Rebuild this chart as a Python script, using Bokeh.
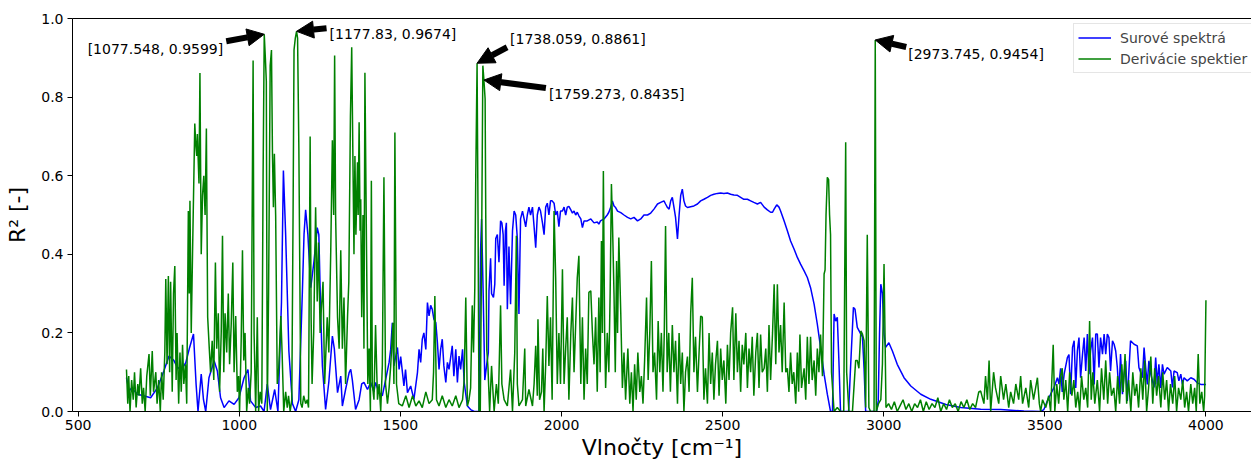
from bokeh.plotting import figure
from bokeh.models import (Range1d, FixedTicker, PrintfTickFormatter, LinearAxis,
                          Label, Arrow, NormalHead, Legend, LegendItem)
from bokeh.embed import file_html
from bokeh.resources import INLINE

# R^2 of the raw spectra along the wavenumber axis
raw_wn = [
    650, 658, 666, 684, 703, 725, 746, 766, 782, 797,
    808, 821, 834, 846, 858, 866, 872, 882, 889, 896,
    906, 922, 932, 942, 953, 968, 984, 999, 1015, 1027,
    1035, 1051, 1066, 1077, 1087, 1097, 1110, 1120, 1131, 1137,
    1144, 1154, 1165, 1175, 1185, 1196, 1201, 1206, 1213, 1222,
    1232, 1242, 1247, 1253, 1258, 1268, 1278, 1289, 1295, 1305,
    1315, 1320, 1330, 1341, 1346, 1351, 1361, 1372, 1380, 1387,
    1398, 1408, 1418, 1423, 1434, 1444, 1454, 1465, 1470, 1475,
    1480, 1491, 1496, 1501, 1511, 1516, 1522, 1532, 1542, 1553,
    1558, 1563, 1568, 1573, 1579, 1584, 1589, 1594, 1599, 1604,
    1610, 1615, 1620, 1625, 1630, 1635, 1641, 1646, 1651, 1661,
    1666, 1672, 1677, 1682, 1687, 1693, 1698, 1708, 1718, 1729,
    1744, 1749, 1752, 1757, 1762, 1768, 1773, 1775, 1780, 1783,
    1789, 1793, 1796, 1801, 1806, 1811, 1815, 1819, 1822, 1826,
    1829, 1832, 1837, 1842, 1848, 1853, 1858, 1863, 1868, 1873,
    1879, 1884, 1889, 1894, 1899, 1904, 1910, 1915, 1920, 1925,
    1930, 1935, 1941, 1946, 1951, 1956, 1961, 1966, 1971, 1977,
    1982, 1987, 1992, 1997, 2003, 2008, 2013, 2018, 2023, 2029,
    2034, 2039, 2044, 2049, 2054, 2060, 2065, 2070, 2080, 2091,
    2101, 2111, 2116, 2121, 2132, 2142, 2147, 2153, 2158, 2163,
    2168, 2174, 2184, 2194, 2205, 2215, 2225, 2236, 2246, 2256,
    2267, 2277, 2287, 2298, 2308, 2318, 2323, 2329, 2334, 2339,
    2344, 2349, 2354, 2360, 2365, 2370, 2375, 2380, 2385, 2391,
    2401, 2411, 2422, 2432, 2442, 2453, 2463, 2473, 2484, 2494,
    2504, 2515, 2525, 2535, 2546, 2556, 2566, 2577, 2587, 2597,
    2608, 2618, 2629, 2639, 2649, 2655, 2660, 2668, 2675, 2680,
    2691, 2701, 2711, 2722, 2732, 2742, 2753, 2763, 2773, 2784,
    2794, 2804, 2815, 2825, 2835, 2841, 2846, 2851, 2856, 2861,
    2866, 2891, 2897, 2906, 2911, 2918, 2929, 2934, 2939, 2944,
    2978, 2983, 2987, 2991, 2996, 3001, 3006, 3016, 3027, 3042,
    3063, 3084, 3115, 3146, 3193, 3239, 3301, 3363, 3435, 3487,
    3497, 3508, 3518, 3528, 3539, 3544, 3549, 3554, 3560, 3570,
    3575, 3580, 3586, 3591, 3596, 3601, 3606, 3611, 3617, 3622,
    3627, 3632, 3637, 3642, 3648, 3653, 3658, 3663, 3668, 3673,
    3679, 3684, 3689, 3694, 3699, 3704, 3710, 3715, 3720, 3725,
    3730, 3735, 3741, 3746, 3751, 3756, 3766, 3777, 3787, 3792,
    3803, 3808, 3813, 3818, 3823, 3829, 3839, 3844, 3849, 3854,
    3860, 3865, 3870, 3880, 3891, 3896, 3901, 3911, 3916, 3922,
    3927, 3932, 3942, 3953, 3963, 3973, 3984, 4000,
]
raw_r2 = [
    .086, .052, .06, .044, .04, .035, .06, .103, .141, .13,
    .112, .107, .124, .163, .197, .07, 0, .095, .03, 0,
    .086, .129, .103, .035, .01, .027, .018, .035, .086, .107,
    .027, .01, .014, 0, .07, .005, .056, 0, .277, .613,
    .45, .154, .02, 0, .03, .307, .45, .513, .45, .315,
    .383, .468, .45, .243, .116, .005, .075, .192, .16, .048,
    .09, .014, .056, .099, .107, .08, .005, .03, .07, .074,
    .056, .074, .05, .074, .048, .04, .08, .125, .158, .226,
    .116, .163, .107, .14, .065, .107, .048, .065, .031, .099,
    .158, .125, .184, .2, .158, .277, .243, .27, .26, .235,
    .226, .175, .107, .158, .184, .116, .074, .125, .107, .167,
    .09, .158, .074, .141, .107, .158, .074, .014, .005, 0,
    0, .41, .49, .3, .08, .12, .15, .307, .39, .3,
    .29, .324, .44, .45, .38, .485, .48, .45, .32, .46,
    .48, .26, .42, .273, .46, .51, .5, .44, .248, .49,
    .51, .49, .47, .5, .52, .5, .52, .47, .417, .5,
    .52, .51, .48, .45, .52, .53, .5, .536, .536, .53,
    .5, .51, .47, .51, .51, .52, .5, .52, .522, .513,
    .505, .51, .5, .507, .498, .49, .468, .485, .485, .49,
    .48, .482, .477, .485, .49, .5, .507, .52, .536, .523,
    .519, .51, .506, .5, .494, .49, .494, .485, .49, .5,
    .5, .505, .515, .528, .532, .536, .528, .519, .515, .536,
    .545, .52, .494, .439, .5, .55, .566, .536, .523, .519,
    .521, .523, .528, .536, .54, .545, .55, .553, .555, .556,
    .555, .556, .553, .551, .55, .545, .54, .54, .536, .532,
    .528, .532, .52, .513, .507, .507, .515, .526, .52, .51,
    .485, .46, .434, .413, .392, .375, .358, .341, .315, .273,
    .222, .163, .095, .044, 0, 0, .248, .23, .24, .128,
    0, 0, .11, .265, .26, .214, .197, .19, .11, 0,
    0, .027, .197, .324, .3, .197, .163, .175, .154, .12,
    .086, .065, .044, .031, .018, .01, .006, .005, .001, 0,
    .005, .027, .044, .06, .086, .07, .11, .05, .095, .137,
    .145, .044, .163, .18, .06, .154, .188, .086, .146, .188,
    .103, .197, .095, .154, .188, .069, .197, .197, .112, .188,
    .146, .197, .146, .197, .188, .103, .18, .171, .154, .112,
    .044, .146, .044, .095, .129, .027, .18, .171, .167, .112,
    .086, .163, .112, .069, .129, .095, .061, .137, .069, .12,
    .06, .12, .095, .112, .103, .061, .103, .099, .078, .095,
    .069, .086, .078, .086, .082, .073, .069, .069,
]

# R^2 of the spectral derivatives (annotated maxima are kept separately below)
deriv_wn = [
    650, 654, 657, 661, 666, 671, 675, 680, 685, 689,
    694, 699, 703, 708, 713, 720, 724, 730, 734, 741,
    745, 750, 755, 759, 764, 769, 772, 776, 780, 784,
    787, 792, 796, 800, 804, 807, 812, 816, 820, 824,
    828, 833, 837, 842, 845, 847, 851, 855, 862, 865,
    868, 870, 875, 878, 882, 886, 890, 894, 898, 902,
    907, 911, 916, 921, 926, 930, 935, 939, 944, 948,
    952, 956, 961, 966, 970, 975, 980, 984, 989, 994,
    998, 1001, 1006, 1010, 1014, 1018, 1023, 1028, 1032, 1037,
    1043, 1046, 1051, 1056, 1060, 1065, 1070, 1074, 1081, 1084,
    1087, 1091, 1096, 1100, 1103, 1106, 1109, 1113, 1118, 1122,
    1129, 1133, 1138, 1144, 1149, 1153, 1158, 1163, 1167, 1170,
    1174, 1181, 1185, 1191, 1195, 1200, 1206, 1211, 1215, 1220,
    1223, 1226, 1231, 1237, 1242, 1246, 1251, 1254, 1260, 1265,
    1273, 1278, 1284, 1289, 1293, 1296, 1299, 1305, 1310, 1315,
    1320, 1325, 1330, 1336, 1340, 1345, 1349, 1353, 1356, 1359,
    1362, 1367, 1369, 1372, 1375, 1377, 1380, 1384, 1387, 1390,
    1395, 1399, 1403, 1407, 1410, 1413, 1418, 1423, 1429, 1434,
    1439, 1444, 1449, 1454, 1460, 1465, 1470, 1477, 1480, 1483,
    1488, 1495, 1506, 1517, 1527, 1538, 1548, 1558, 1568, 1579,
    1589, 1599, 1603, 1607, 1612, 1620, 1630, 1641, 1651, 1661,
    1672, 1682, 1693, 1698, 1703, 1708, 1713, 1718, 1723, 1727,
    1731, 1734, 1741, 1744, 1748, 1752, 1756, 1763, 1765, 1768,
    1772, 1777, 1783, 1786, 1791, 1798, 1804, 1811, 1815, 1822,
    1832, 1842, 1848, 1855, 1860, 1863, 1868, 1879, 1886, 1889,
    1899, 1910, 1915, 1920, 1925, 1927, 1932, 1938, 1942, 1946,
    1951, 1956, 1961, 1966, 1971, 1977, 1982, 1987, 1992, 1997,
    2003, 2008, 2013, 2018, 2023, 2029, 2034, 2039, 2044, 2049,
    2054, 2060, 2065, 2070, 2075, 2080, 2085, 2091, 2096, 2101,
    2106, 2111, 2116, 2120, 2124, 2127, 2130, 2134, 2137, 2142,
    2147, 2151, 2155, 2158, 2163, 2167, 2171, 2174, 2178, 2184,
    2189, 2194, 2199, 2206, 2212, 2217, 2222, 2227, 2232, 2237,
    2243, 2248, 2253, 2258, 2264, 2269, 2274, 2279, 2284, 2289,
    2295, 2300, 2305, 2310, 2315, 2319, 2323, 2328, 2333, 2338,
    2344, 2349, 2354, 2360, 2365, 2370, 2375, 2380, 2385, 2391,
    2396, 2401, 2406, 2411, 2416, 2422, 2427, 2432, 2437, 2442,
    2447, 2453, 2458, 2463, 2468, 2473, 2478, 2484, 2489, 2494,
    2499, 2504, 2510, 2515, 2520, 2525, 2531, 2535, 2541, 2546,
    2551, 2556, 2561, 2566, 2572, 2577, 2582, 2587, 2592, 2597,
    2603, 2608, 2613, 2618, 2623, 2629, 2634, 2639, 2644, 2649,
    2655, 2660, 2665, 2670, 2675, 2680, 2685, 2691, 2696, 2701,
    2706, 2711, 2716, 2721, 2727, 2732, 2736, 2740, 2745, 2753,
    2758, 2763, 2768, 2773, 2778, 2784, 2789, 2794, 2799, 2804,
    2810, 2815, 2818, 2821, 2825, 2829, 2832, 2835, 2838, 2846,
    2856, 2866, 2876, 2882, 2885, 2892, 2903, 2913, 2918, 2923,
    2929, 2934, 2939, 2944, 2949, 2954, 2959, 2970, 2977, 2984,
    2991, 2996, 3001, 3004, 3007, 3015, 3024, 3033, 3042, 3051,
    3060, 3069, 3078, 3087, 3096, 3105, 3114, 3123, 3132, 3141,
    3150, 3159, 3168, 3177, 3186, 3195, 3204, 3213, 3222, 3231,
    3240, 3249, 3258, 3267, 3276, 3285, 3295, 3301, 3311, 3316,
    3322, 3327, 3332, 3341, 3347, 3357, 3363, 3372, 3379, 3388,
    3394, 3403, 3410, 3419, 3425, 3431, 3441, 3450, 3456, 3465,
    3477, 3483, 3487, 3493, 3503, 3512, 3518, 3526, 3531, 3537,
    3543, 3549, 3554, 3559, 3565, 3571, 3577, 3584, 3590, 3596,
    3602, 3608, 3614, 3621, 3627, 3633, 3639, 3644, 3649, 3655,
    3663, 3670, 3676, 3683, 3689, 3695, 3701, 3707, 3714, 3720,
    3726, 3732, 3739, 3743, 3749, 3754, 3760, 3767, 3773, 3779,
    3785, 3791, 3798, 3804, 3810, 3816, 3822, 3829, 3835, 3841,
    3847, 3853, 3860, 3866, 3872, 3878, 3884, 3890, 3897, 3903,
    3909, 3915, 3922, 3928, 3934, 3940, 3946, 3953, 3959, 3965,
    3970, 3976, 3981, 3987, 3993, 3996, 4000,
]
deriv_r2 = [
    .107, .02, .09, 0, .08, .03, .1, .01, .07, .04,
    .11, .02, .06, 0, .09, .146, .04, .154, .05, .1,
    .02, .08, 0, .1, .03, .15, .337, .12, .345, .1,
    .33, .05, .3, .37, .08, .2, .02, .15, .05, .17,
    .07, .12, .02, .51, .3, .536, .2, .4, .733, .68,
    .65, .706, .58, .861, .4, .55, .6, .5, .72, .24,
    .16, .1, .18, .08, .379, .16, .25, .05, .2, .447,
    .1, .25, .15, .3, .12, .22, .379, .1, .243, .05,
    .09, 0, .18, .41, .13, .2, 0, .06, .02, .1,
    .893, .2, 0, .24, 0, .05, .02, .6, .9, .84,
    0, .3, .88, .92, .66, .52, .656, .498, .07, .1,
    .243, .15, 0, .05, .01, .04, 0, .03, .5, .92,
    .95, .95, .67, .02, .01, .04, .02, .03, .01, .7,
    .24, .07, .2, .52, .28, .43, .2, .25, .33, .07,
    .24, .15, .41, .69, .5, .906, .5, .24, .16, .41,
    .16, .29, .07, .24, .33, .75, .927, .625, .4, .65,
    .45, .634, .5, .736, .46, .54, .24, .5, .16, .862,
    .41, .07, .16, 0, .587, .07, .03, .22, .03, .07,
    0, .116, .596, .07, .02, .06, .116, .226, .07, .71,
    .07, .02, .014, .04, .01, .04, .014, .027, .01, .05,
    .02, .03, .1, .294, .03, .014, .04, .01, .03, .014,
    .04, .01, .03, .08, .29, .014, .03, .06, .27, .15,
    .315, .6, .5, 0, 0, .4, .88, .795, .5, .16,
    .11, 0, .116, .07, 0, .07, .02, .27, .07, .03,
    .014, .107, 0, .15, .447, .07, .014, .03, .16, .014,
    .056, .014, .07, .167, .04, .235, .03, .05, .16, 0,
    .12, .294, .116, .24, .03, .51, .34, .07, .2, .07,
    .362, .07, .16, .24, .03, .2, .29, .1, .22, .34,
    .396, .07, .24, .03, .16, .07, .303, .307, .2, .12,
    .24, .05, .29, .1, .434, .2, .612, .2, .06, .2,
    .1, .3, .579, .49, .3, .1, .383, .2, .443, .25,
    .06, .15, .03, .16, .02, .1, 0, .12, .03, .15,
    .05, .09, .02, .13, .29, .08, .2, .383, .1, .15,
    .03, .23, .1, .2, .05, .2, .472, .1, .2, .05,
    .22, .1, .18, .02, .2, .07, .15, 0, .1, .14,
    .05, .25, .34, .1, .19, .05, .15, .243, .24, .03,
    .11, .02, .2, .07, .15, .03, .12, .18, .04, .16,
    .08, .13, .02, .17, .08, .2, .265, .08, .25, .1,
    .18, .05, .17, .12, .2, .06, .16, .1, .19, .04,
    .15, .2, .06, .196, .1, .11, .16, .05, .22, .08,
    .2, .324, .12, .324, .15, .22, .1, .277, .1, .11,
    .05, .15, .07, .1, .02, .15, .05, .196, .06, .11,
    .03, .19, .07, .19, .08, .13, .04, .16, .1, .196,
    .09, .35, .36, .5, .596, .59, .5, .45, .1, 0,
    .01, 0, 0, .685, .1, 0, 0, .13, .13, .11,
    .205, .197, .18, .01, .45, .01, 0, 0, 0, .02,
    .03, .12, .375, .2, .01, .02, .005, .025, 0, .015,
    .03, .005, .02, 0, .02, .01, .03, 0, .025, .005,
    .02, .01, .035, 0, .02, .005, .03, .01, .02, 0,
    .025, .01, .03, .005, .02, .01, .05, .052, .02, .09,
    .03, .13, 0, .1, .06, .02, .09, .03, .07, .01,
    .05, .02, .07, .03, .09, .02, .06, .01, .08, .03,
    .086, .02, 0, .03, .01, .04, 0, .17, 0, .07,
    .02, .09, .11, .03, .08, 0, .1, .04, .08, .01,
    .05, 0, .09, .03, .06, .01, .23, .03, .1, .02,
    .08, 0, .11, .03, .13, .02, .1, .04, .06, 0,
    .09, .02, .12, .05, .146, .02, .08, 0, .1, .04,
    .07, .01, .11, .03, .13, 0, .06, .14, .02, .11,
    .04, .09, .01, .1, .03, .08, 0, .07, .02, .09,
    0, .06, .03, .08, .01, .05, 0, .07, .02, .06,
    0, .146, .02, .05, 0, .04, .283,
]

# annotated maxima of the derivative curve
peak_wn = [1077.548, 1177.83, 1738.059, 1759.273, 2973.745]
peak_r2 = [0.9599, 0.9674, 0.8861, 0.8435, 0.9454]

# per-annotation layout in pixels: arrow tail offset and label anchor offset
# (x to the right, y downwards), plus label alignment
arrow_tail_px = [(-38, 7), (30, -3), (30, -16), (62, 8), (31, 7)]
label_px = [(-41, 15), (33, 3), (33, -24), (65, 14), (33, 14)]
label_align = ["right", "left", "left", "left", "left"]

x_ticks = [500, 1000, 1500, 2000, 2500, 3000, 3500, 4000]
y_ticks = [0.0, 0.2, 0.4, 0.6, 0.8, 1.0]

series_names = ["Surové spektrá", "Derivácie spektier"]
series_colors = ["#0000ff", "#008000"]

FONT = "DejaVu Sans"
W, H = 1251, 465
LEFT, TOP, BOTTOM = 72, 18, 54
FRAME_W = W - LEFT
FRAME_H = H - TOP - BOTTOM

# axis limits: data extent padded by 5 % on each side; the right part of the
# padded range runs past the canvas edge
x_min, x_max = min(raw_wn), max(raw_wn)
pad = 0.05 * (x_max - x_min)
X_LO = x_min - pad
WN_PER_PX = 3.1034
X_HI = X_LO + FRAME_W * WN_PER_PX
R2_PER_PX = 1.0 / FRAME_H

# annotated points merged into the derivative series
merged = sorted(zip(deriv_wn + peak_wn, deriv_r2 + peak_r2))
d_wn = [w for w, _ in merged]
d_r2 = [r for _, r in merged]

p = figure(width=W, height=H, x_range=Range1d(X_LO, X_HI), y_range=Range1d(0, 1),
           output_backend="svg", toolbar_location=None,
           min_border_left=LEFT, min_border_right=0,
           min_border_top=TOP, min_border_bottom=BOTTOM)
p.outline_line_color = None
p.xgrid.visible = False
p.ygrid.visible = False
p.background_fill_color = "white"
p.border_fill_color = "white"

r_raw = p.line(raw_wn, raw_r2, line_color=series_colors[0], line_width=1.5)
r_der = p.line(d_wn, d_r2, line_color=series_colors[1], line_width=1.5)

p.xaxis.ticker = FixedTicker(ticks=x_ticks)
p.yaxis.ticker = FixedTicker(ticks=y_ticks)
p.xaxis.formatter = PrintfTickFormatter(format="%d")
p.yaxis.formatter = PrintfTickFormatter(format="%.1f")
for ax in p.axis:
    ax.axis_line_color = "black"
    ax.axis_line_width = 1
    ax.major_tick_line_color = "black"
    ax.major_tick_out = 5
    ax.major_tick_in = 0
    ax.minor_tick_out = 0
    ax.minor_tick_in = 0
    ax.major_label_text_font = FONT
    ax.major_label_text_font_size = "14px"
    ax.major_label_text_color = "black"
    ax.axis_label_text_font = FONT
    ax.axis_label_text_font_size = "22px"
    ax.axis_label_text_font_style = "normal"
    ax.axis_label_text_color = "black"

p.xaxis.major_label_standoff = 3
p.yaxis.major_label_standoff = 4
p.xaxis.axis_label = "Vlnočty [cm⁻¹]"
p.xaxis.axis_label_standoff = 2
p.yaxis.axis_label = "R² [-]"
p.yaxis.axis_label_standoff = 8

# top spine
top_axis = LinearAxis(ticker=FixedTicker(ticks=[]), axis_line_color="black",
                      major_tick_out=0, major_tick_in=0, minor_tick_out=0,
                      minor_tick_in=0, major_label_text_font_size="0px")
p.add_layout(top_axis, "above")

# annotations of the derivative maxima
for wn, r2, (tx, ty), (lx, ly), align in zip(peak_wn, peak_r2, arrow_tail_px,
                                            label_px, label_align):
    p.add_layout(Arrow(x_start=wn + tx * WN_PER_PX, y_start=r2 - ty * R2_PER_PX,
                       x_end=wn, y_end=r2, line_color="black", line_width=6,
                       end=NormalHead(size=17, fill_color="black", line_color="black",
                                      line_width=1)))
    p.add_layout(Label(x=wn, y=r2, x_offset=lx, y_offset=-ly,
                       text=f"[{wn}, {r2}]", text_align=align, text_baseline="middle",
                       text_font=FONT, text_font_size="14px", text_color="black"))

legend = Legend(items=[LegendItem(label=series_names[0], renderers=[r_raw]),
                       LegendItem(label=series_names[1], renderers=[r_der])],
                location=(1001, 338), padding=4, spacing=2, margin=0,
                glyph_width=33, glyph_height=19, label_height=19, label_standoff=9,
                label_text_font=FONT, label_text_font_size="14px",
                border_line_color="#cccccc", border_line_width=1,
                background_fill_color="white", background_fill_alpha=0.8)
p.add_layout(legend)

open("out.html", "w").write(file_html(p, INLINE))
